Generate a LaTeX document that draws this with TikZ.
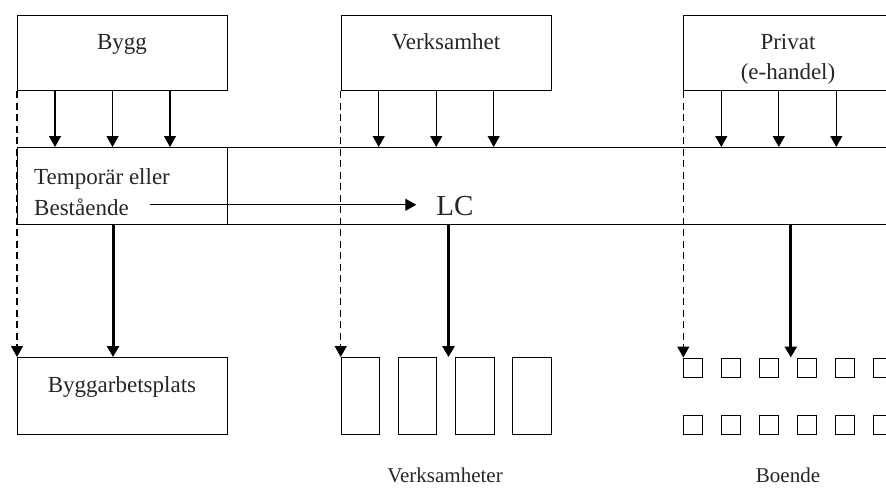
\documentclass[tikz,border=0pt]{standalone}
\usepackage{fontspec}
\setmainfont{Liberation Serif}
\usetikzlibrary{arrows.meta}
\begin{document}
\begin{tikzpicture}[x=1pt,y=-1pt,
  box/.style={draw,line width=1pt,inner sep=0pt,anchor=north west},
  lbl/.style={font=\fontsize{23}{28}\selectfont,text=black!85,inner sep=0pt},
  small/.style={font=\fontsize{21}{25}\selectfont,text=black!85,inner sep=0pt},
  tip/.style={-{Triangle[width=12pt,length=11pt]}},
  thinarr/.style={tip,line width=1.3pt},
  thickarr/.style={tip,line width=3pt},
  dasharr/.style={tip,line width=1.3pt,dash pattern=on 7pt off 4.5pt},
]
\useasboundingbox (0,0) rectangle (886,488);
\clip (0,0) rectangle (886,488);

% top boxes
\node[box,minimum width=210pt,minimum height=75pt] (bygg) at (17,15) {};
\node[lbl,anchor=base] (byggt) at (122,49) {Bygg};
\node[box,minimum width=210pt,minimum height=75pt] (verk) at (340.7,15) {};
\node[lbl,anchor=base] (verkt) at (446,49) {Verksamhet};
\node[box,minimum width=260pt,minimum height=75pt] (priv) at (683.3,15) {};
\node[lbl,anchor=base] (privt) at (788,49) {Privat};
\node[lbl,anchor=base] (privt2) at (788,79) {(e-handel)};

% band
\node[box,minimum width=900pt,minimum height=77pt] (band) at (17,147) {};
\node[box,minimum width=210pt,minimum height=77pt] (tbox) at (17,147) {};
\node[lbl,anchor=base west] (temp) at (34,184) {Temporär eller};
\node[lbl,anchor=base west] (best) at (34,215) {Bestående};
\node[font=\fontsize{29}{34}\selectfont,text=black!85,inner sep=0pt,anchor=base] (lc) at (455,215) {LC};
\path ([xshift=21pt,yshift=2pt]best.east) coordinate (as)
      ([xshift=-20pt]lc.west) coordinate (ae);
\draw[thinarr] (as) -- (as -| ae);

% small arrows
\foreach \b in {bygg,verk,priv}
  \foreach \dx in {38,95.5,153}
    \draw[thinarr] ([xshift=\dx pt]\b.south west) -- ([xshift=\dx pt]\b.south west |- band.north);

% lower nodes
\node[box,minimum width=210pt,minimum height=77pt] (barb) at (17,357) {};
\node[lbl,anchor=base] (barbt) at (122,392.5) {Byggarbetsplats};

\foreach \i/\x in {1/340.7,2/397.7,3/455,4/512.3}
  \node[box,minimum width=38.5pt,minimum height=77pt] (v\i) at (\x,357) {};

\foreach \i in {0,...,5}{
  \node[box,minimum width=19pt,minimum height=19pt] (sa\i) at (683.3+38*\i,357.5) {};
  \node[box,minimum width=19pt,minimum height=19pt] (sb\i) at (683.3+38*\i,414.5) {};
}

\node[small,anchor=base] (verksamheter) at (445,482) {Verksamheter};
\node[small,anchor=base] (boende) at (788,482) {Boende};

% dashed arrows
\draw[dasharr] (bygg.south west) -- (barb.north west);
\draw[dasharr] (verk.south west) -- (v1.north west);
\draw[dasharr] (priv.south west) -- (sa0.north west);

% thick arrows
\draw[thickarr] ([xshift=96pt]band.south west) -- ([xshift=96pt]barb.north west);
\path ([xshift=-6.5pt]v3.north west) coordinate (vt);
\draw[thickarr] (vt |- band.south) -- (vt);
\path ([xshift=-6.5pt]sa3.north west) coordinate (st);
\draw[thickarr] (st |- band.south) -- (st);
\end{tikzpicture}
\end{document}
